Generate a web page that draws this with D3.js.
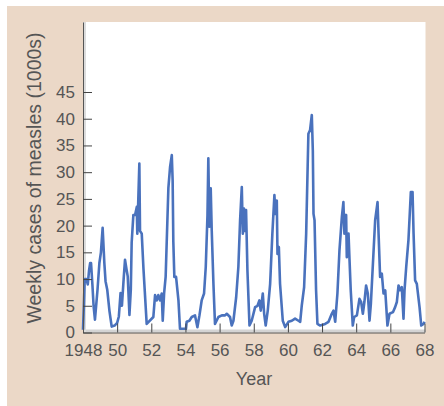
<!DOCTYPE html>
<html>
<head>
<meta charset="utf-8">
<script src="https://cdn.jsdelivr.net/npm/d3@7"></script>
<style>
  body { margin: 0; background: #fff; }
  svg { display: block; font-family: "Liberation Sans", Arial, sans-serif; }
</style>
</head>
<body>
<svg id="chart"></svg>
<script>
// weekly measles cases (1000s)
const years = [
  1948.00, 1948.05, 1948.10, 1948.20, 1948.28, 1948.35, 1948.42, 1948.47, 1948.55, 1948.62,
  1948.70, 1948.85, 1948.96, 1949.05, 1949.15, 1949.25, 1949.32, 1949.42, 1949.55, 1949.68,
  1949.85, 1950.00, 1950.10, 1950.20, 1950.28, 1950.38, 1950.46, 1950.55, 1950.62, 1950.72,
  1950.80, 1950.85, 1950.95, 1951.05, 1951.15, 1951.18, 1951.30, 1951.34, 1951.44, 1951.54,
  1951.73, 1952.12, 1952.22, 1952.32, 1952.41, 1952.51, 1952.61, 1952.67, 1952.75, 1952.84,
  1953.00, 1953.10, 1953.20, 1953.25, 1953.29, 1953.35, 1953.45, 1953.59, 1953.68, 1954.03,
  1954.07, 1954.23, 1954.37, 1954.56, 1954.70, 1954.82, 1954.95, 1955.09, 1955.19, 1955.29,
  1955.34, 1955.40, 1955.48, 1955.54, 1955.64, 1955.73, 1955.93, 1956.13, 1956.32, 1956.42,
  1956.61, 1956.71, 1956.81, 1956.97, 1957.10, 1957.20, 1957.30, 1957.36, 1957.43, 1957.49,
  1957.55, 1957.63, 1957.75, 1957.88, 1958.08, 1958.22, 1958.33, 1958.41, 1958.53, 1958.61,
  1958.70, 1958.82, 1958.96, 1959.09, 1959.21, 1959.27, 1959.35, 1959.39, 1959.47, 1959.54,
  1959.70, 1959.84, 1960.03, 1960.23, 1960.42, 1960.62, 1960.72, 1960.81, 1960.95, 1961.07,
  1961.20, 1961.30, 1961.40, 1961.46, 1961.50, 1961.56, 1961.65, 1961.73, 1961.89, 1962.18,
  1962.38, 1962.57, 1962.67, 1962.77, 1962.90, 1963.02, 1963.16, 1963.25, 1963.31, 1963.41,
  1963.45, 1963.55, 1963.61, 1963.68, 1963.80, 1963.88, 1964.04, 1964.19, 1964.29, 1964.39,
  1964.48, 1964.58, 1964.68, 1964.78, 1964.86, 1964.97, 1965.11, 1965.25, 1965.31, 1965.40,
  1965.50, 1965.60, 1965.70, 1965.83, 1965.95, 1966.15, 1966.28, 1966.38, 1966.48, 1966.57,
  1966.67, 1966.77, 1966.83, 1966.93, 1967.06, 1967.20, 1967.30, 1967.36, 1967.45, 1967.55,
  1967.71, 1967.81, 1967.94, 1968.00
];
const cases = [
  0.5, 5, 10, 10, 9, 11.5, 13, 13, 9, 5,
  2.4, 8, 13, 15, 19.6, 13, 9.6, 8, 4, 1.1,
  1.3, 1.8, 3, 7.4, 5, 10, 13.6, 11.8, 10.5, 3.3,
  8, 16.8, 22, 22, 23.5, 18.5, 31.6, 19, 18.5, 12,
  1.6, 2.9, 7, 6, 7, 6, 7.3, 2.2, 7.3, 10.4,
  27, 31, 33.2, 28.5, 17, 10.4, 10.4, 6, 0.7, 0.7,
  2, 2.2, 2.9, 3.2, 1, 3.2, 6, 7.3, 12.3, 22,
  32.6, 19.8, 27, 19, 9, 1.6, 2.9, 3.2, 3.2, 3.5,
  2.9, 1.3, 2.2, 6.6, 12.3, 21, 27.2, 18.5, 23.2, 19,
  22.9, 11.6, 1.3, 2.2, 4.75, 5, 6, 4.1, 7.3, 3.5,
  1.3, 4.1, 9.1, 18.5, 25.7, 22.2, 24.7, 14.7, 16, 9.1,
  2.2, 1, 2, 2.2, 2.6, 2.2, 2, 5, 8.5, 18.5,
  37.2, 37.9, 40.7, 34, 22.2, 21, 7.9, 1.6, 1.3, 1.6,
  2, 3.5, 4.1, 2, 7.3, 15.4, 21.6, 24.4, 18.5, 22,
  14.1, 18.5, 13.5, 7.9, 1.3, 2.9, 3.2, 6.3, 5.7, 3.5,
  5.7, 8.8, 7.3, 2.2, 5.4, 12.3, 21, 24.4, 18.5, 10.4,
  11, 7.3, 7.9, 1.3, 3.5, 3.8, 4.75, 5.7, 8.8, 7.9,
  8.5, 2.6, 7.9, 12.3, 17.3, 26.3, 26.3, 18.5, 9.75, 9.1,
  4.75, 1.3, 1.6, 2
];
const x_ticks = [1948, 1950, 1952, 1954, 1956, 1958, 1960, 1962, 1964, 1966, 1968];
const x_tick_labels = ['1948', '50', '52', '54', '56', '58', '60', '62', '64', '66', '68'];
const y_ticks = [0, 5, 10, 15, 20, 25, 30, 35, 40, 45];

class MeaslesChart {

    constructor( config, data ) {
        this.config = {
            parent: config.parent,
            width: config.width || 444,
            height: config.height || 406,
            left: 83, right: 424.5, top: 22, bottom: 332.5,
            y_max: 58.1
        };
        this.data = data;
        this.init();
    }

    init() {
        let self = this;
        const c = self.config;

        self.svg = d3.select( c.parent )
            .attr('width', c.width)
            .attr('height', c.height);

        // beige panel
        self.svg.append('rect')
            .attr('x', 7).attr('y', 6)
            .attr('width', c.width - 7).attr('height', c.height - 6)
            .attr('fill', '#ebd8c7');

        // white plot area
        self.svg.append('rect')
            .attr('x', c.left).attr('y', c.top)
            .attr('width', c.right - c.left + 1).attr('height', c.bottom - c.top)
            .attr('fill', '#fff');

        self.xscale = d3.scaleLinear()
            .domain([1948, 1968])
            .range([c.left, c.right]);

        self.yscale = d3.scaleLinear()
            .domain([0, c.y_max])
            .range([c.bottom, c.top]);

        self.xaxis = d3.axisBottom( self.xscale )
            .tickValues( x_ticks )
            .tickFormat( (d, i) => x_tick_labels[i] )
            .tickSizeInner(-9)
            .tickSizeOuter(0)
            .tickPadding(11);

        self.yaxis = d3.axisLeft( self.yscale )
            .tickValues( y_ticks )
            .tickSizeInner(-9)
            .tickSizeOuter(0)
            .tickPadding(8);
    }

    render() {
        let self = this;
        const c = self.config;

        // light grey shading along the axes
        self.svg.append('rect')
            .attr('x', c.left).attr('y', c.bottom - 3)
            .attr('width', c.right - c.left + 1).attr('height', 3)
            .attr('fill', '#d4d4d4');
        self.svg.append('rect')
            .attr('x', c.left).attr('y', c.top)
            .attr('width', 3).attr('height', c.bottom - c.top)
            .attr('fill', '#dcdcdc');

        const line = d3.line()
            .x(d => self.xscale(d.year))
            .y(d => self.yscale(d.value));

        self.svg.append('path')
            .datum( self.data )
            .attr('d', line)
            .attr('fill', 'none')
            .attr('stroke', '#4a72bd')
            .attr('stroke-width', 2.6)
            .attr('stroke-linejoin', 'round');

        const xg = self.svg.append('g')
            .attr('transform', `translate(0, ${c.bottom})`)
            .call( self.xaxis );
        const yg = self.svg.append('g')
            .attr('transform', `translate(${c.left}, 0)`)
            .call( self.yaxis );

        xg.selectAll('text').attr('font-size', 17).attr('fill', '#555');
        yg.selectAll('text').attr('font-size', 17).attr('fill', '#555');
        xg.selectAll('line').attr('stroke', '#444');
        yg.selectAll('line').attr('stroke', '#444');
        xg.select('.domain').attr('stroke', '#555');
        yg.select('.domain').attr('stroke', '#555');
        xg.selectAll('.tick').filter(d => d === 1948).select('line').remove();

        self.svg.append('text')
            .attr('transform', `translate(41, 178) rotate(-90)`)
            .attr('text-anchor', 'middle')
            .attr('font-size', 19.5)
            .attr('fill', '#555')
            .text('Weekly cases of measles (1000s)');

        self.svg.append('text')
            .attr('x', 254).attr('y', 385)
            .attr('text-anchor', 'middle')
            .attr('font-size', 18)
            .attr('fill', '#555')
            .text('Year');
    }
}

const data = years.map((y, i) => ({ year: y, value: cases[i] }));
const chart = new MeaslesChart({ parent: '#chart' }, data);
chart.render();
</script>
</body>
</html>
